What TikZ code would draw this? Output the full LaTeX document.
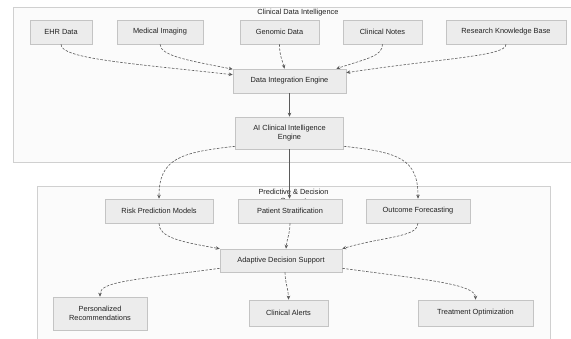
\documentclass[tikz,border=0pt]{standalone}
\usepackage{fontspec}
\setmainfont{Liberation Sans}
\usepackage{xcolor}
\usetikzlibrary{arrows.meta,calc}
\definecolor{nodefill}{HTML}{ECECEC}
\definecolor{nodeline}{HTML}{C4C4C4}
\definecolor{clusterfill}{HTML}{FBFBFB}
\definecolor{clusterline}{HTML}{D0D0D0}
\definecolor{edgecol}{HTML}{5A5A5A}
\definecolor{textcol}{HTML}{222222}
\begin{document}
\begin{tikzpicture}[x=1pt,y=-1pt,
    box/.style={draw=nodeline, fill=nodefill, line width=0.6pt, text=textcol,
      minimum height=24pt, inner sep=2pt, align=center,
      font=\fontsize{7.4}{9}\selectfont},
    flow/.style={draw=edgecol, line width=0.6pt, -{Stealth[length=4pt,width=3.5pt]}},
    weak/.style={flow, dash pattern=on 2.5pt off 1.5pt},
    ctitle/.style={text=textcol, inner sep=2pt, align=center,
      font=\fontsize{7.4}{9}\selectfont}]
      \useasboundingbox (0,0) rectangle (571,338);
      \fill [white] (0,0) rectangle (571,338);
      \clip (0,0) rectangle (571,338);
      % groups
      \draw [clusterline, fill=clusterfill] (13,7) rectangle (585,162);
      \draw [clusterline, fill=clusterfill] (37,186) rectangle (550,350);
      \node [ctitle] (datatitle) at (298,13) {Clinical Data Intelligence};
      \node [ctitle, anchor=north] (predtitle) at (293.5,187) {Predictive \& Decision\\Support};

      % sources
      \node [box, minimum width=62pt] (ehr) at (61,32) {EHR Data};
      \node [box, minimum width=86pt] (imaging) at (160,32) {Medical Imaging};
      \node [box, minimum width=79pt] (genomic) at (279.5,32) {Genomic Data};
      \node [box, minimum width=79pt] (notes) at (382.5,32) {Clinical Notes};
      \node [box, minimum width=120pt] (research) at (506,32) {Research Knowledge Base};

      % engines
      \node [box, minimum width=113pt] (integration) at (289.5,81) {Data Integration Engine};
      \node [box, minimum width=108pt, minimum height=32pt] (aiengine) at (289.5,133)
        {AI Clinical Intelligence\\Engine};

      % predictive
      \node [box, minimum width=108pt] (risk) at (159,211) {Risk Prediction Models};
      \node [box, minimum width=104pt] (strat) at (290,211) {Patient Stratification};
      \node [box, minimum width=104pt] (forecast) at (418,211) {Outcome Forecasting};
      \node [box, minimum width=122pt, minimum height=23pt] (adaptive) at (281,260.5) {Adaptive Decision Support};
      \node [box, minimum width=94pt, minimum height=33pt] (personal) at (100,313.5)
        {Personalized\\Recommendations};
      \node [box, minimum width=79pt, minimum height=26pt] (alerts) at (288.5,313) {Clinical Alerts};
      \node [box, minimum width=115pt, minimum height=26pt] (treatment) at (475.5,313) {Treatment Optimization};

      % links into the integration engine
      \draw [weak] (ehr.south) .. controls +(0,14) and +(-110,-12) .. ([yshift=-6pt]integration.north west);
      \draw [weak] (imaging.south) .. controls +(0,12) and +(-40,-8) .. ([yshift=-0.5pt]integration.north west);
      \draw [weak] (genomic.south) .. controls +(0,12) and +(-2,-8) .. ([xshift=-5pt]integration.north);
      \draw [weak] (notes.south) .. controls +(0,12) and +(30,-10) .. ([xshift=-10pt]integration.north east);
      \draw [weak] (research.south) .. controls +(0,12) and +(100,-15) .. ([yshift=-4pt]integration.north east);
      \draw [flow] (integration) -- (aiengine);

      % engine to models
      \draw [weak] ([yshift=3pt]aiengine.south west) .. controls +(-55,6) and +(0,-40) .. (risk.north);
      \draw [flow] (aiengine.south) -- (aiengine.south |- strat.north);
      \draw [weak] ([yshift=3pt]aiengine.south east) .. controls +(55,6) and +(0,-40) .. (forecast.north);

      % models to decision support
      \draw [weak] (risk.south) .. controls +(0,14) and +(-40,-7) .. (adaptive.north west);
      \draw [weak] (strat.south) .. controls +(0,10) and +(1,-10) .. ([xshift=5pt]adaptive.north);
      \draw [weak] (forecast.south) .. controls +(0,14) and +(40,-12) .. (adaptive.north east);

      % decision support to actions
      \draw [weak] ([yshift=4pt]adaptive.south west) .. controls +(-90,12) and +(0,-15) .. (personal.north);
      \draw [weak] ([xshift=4pt]adaptive.south) .. controls +(0,10) and +(0,-10) .. (alerts.north);
      \draw [weak] ([yshift=4pt]adaptive.south east) .. controls +(90,12) and +(0,-15) .. (treatment.north);
    \end{tikzpicture}
\end{document}
